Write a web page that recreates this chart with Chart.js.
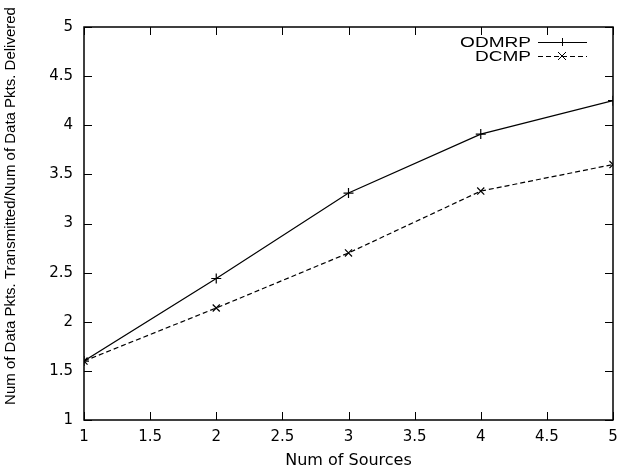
<!DOCTYPE html>
<html>
<head>
<meta charset="UTF-8">
<title>Num of Sources</title>
<script src="https://cdn.jsdelivr.net/npm/chart.js"></script>
<style>
  body { margin: 0; background: #ffffff; }
  #wrap { width: 627px; height: 470px; }
</style>
</head>
<body>
<div id="wrap"><canvas id="chart" width="627" height="470"></canvas></div>
<script>
// datos
const sources = [1, 2, 3, 4, 5];
const odmrp = [1.60, 2.44, 3.31, 3.91, 4.25];
const dcmp = [1.60, 2.14, 2.70, 3.33, 3.60];
const seriesNames = ['ODMRP', 'DCMP'];
const yTitle = 'Num of Data Pkts. Transmitted/Num of Data Pkts. Delivered';
const xTitle = 'Num of Sources';

const FONT = '"Liberation Sans", Arial, Helvetica, sans-serif';
const WIDE = '"DejaVu Sans", sans-serif';

const toPoints = (xs, ys) => xs.map((x, i) => ({ x: x, y: ys[i] }));

// marco, marcas hacia dentro, titulo del eje y y leyenda (estilo gnuplot)
const frame = {
  id: 'frame',
  afterDatasetsDraw(chart) {
    const { ctx, chartArea: a, scales } = chart;
    const len = 8;
    ctx.save();
    ctx.strokeStyle = '#000';
    ctx.lineWidth = 1.5;
    ctx.strokeRect(a.left, a.top, a.right - a.left, a.bottom - a.top);
    ctx.lineWidth = 1;
    ctx.beginPath();
    scales.x.ticks.forEach(t => {
      const px = Math.round(scales.x.getPixelForValue(t.value)) + 0.5;
      ctx.moveTo(px, a.bottom); ctx.lineTo(px, a.bottom - len);
      ctx.moveTo(px, a.top); ctx.lineTo(px, a.top + len);
    });
    scales.y.ticks.forEach(t => {
      const py = Math.round(scales.y.getPixelForValue(t.value)) + 0.5;
      ctx.moveTo(a.left, py); ctx.lineTo(a.left + len, py);
      ctx.moveTo(a.right, py); ctx.lineTo(a.right - len, py);
    });
    ctx.stroke();

    // titulo eje y
    ctx.fillStyle = '#000';
    ctx.save();
    ctx.translate(11, 206);
    ctx.rotate(-Math.PI / 2);
    ctx.font = '15px ' + FONT;
    ctx.textAlign = 'center';
    ctx.textBaseline = 'middle';
    ctx.fillText(yTitle, 0, 0);
    ctx.restore();

    // leyenda
    const ds = chart.data.datasets;
    ds.forEach((d, i) => {
      const y = 42 + i * 14;
      ctx.save();
      ctx.translate(531, y);
      ctx.scale(1.27, 1);
      ctx.font = '15px ' + FONT;
      ctx.textAlign = 'right';
      ctx.textBaseline = 'middle';
      ctx.fillText(d.label, 0, 1);
      ctx.restore();
      ctx.setLineDash(d.borderDash || []);
      ctx.beginPath();
      ctx.moveTo(538, y + 0.5); ctx.lineTo(587, y + 0.5);
      ctx.stroke();
      ctx.setLineDash([]);
      ctx.beginPath();
      const cx = 562, r = 4;
      if (d.pointStyle === 'cross') {
        ctx.moveTo(cx - r, y + 0.5); ctx.lineTo(cx + r, y + 0.5);
        ctx.moveTo(cx + 0.5, y - r); ctx.lineTo(cx + 0.5, y + r);
      } else {
        ctx.moveTo(cx - r, y - r); ctx.lineTo(cx + r, y + r);
        ctx.moveTo(cx - r, y + r); ctx.lineTo(cx + r, y - r);
      }
      ctx.stroke();
    });
    ctx.restore();
  }
};

const fmt = v => String(Number(v));

const chart = new Chart(document.getElementById('chart'), {
  type: 'line',
  data: {
    datasets: [
      {
        label: seriesNames[0],
        data: toPoints(sources, odmrp),
        borderColor: '#000',
        borderWidth: 1.2,
        pointStyle: 'cross',
        pointRadius: 5,
        pointBorderColor: '#000',
        pointBorderWidth: 1.2,
        fill: false,
        tension: 0
      },
      {
        label: seriesNames[1],
        data: toPoints(sources, dcmp),
        borderColor: '#000',
        borderWidth: 1.2,
        borderDash: [5, 3],
        pointStyle: 'crossRot',
        pointRadius: 5,
        pointBorderColor: '#000',
        pointBorderWidth: 1.2,
        fill: false,
        tension: 0
      }
    ]
  },
  options: {
    responsive: false,
    animation: false,
    layout: { padding: { left: 0, right: 14, top: 27, bottom: 0 } },
    plugins: { legend: { display: false }, tooltip: { enabled: false } },
    scales: {
      x: {
        type: 'linear',
        min: 1, max: 5,
        grid: { display: false, drawTicks: false },
        border: { display: false },
        ticks: { stepSize: 0.5, padding: 8, color: '#000', callback: fmt, font: { family: WIDE, size: 15 } },
        title: { display: true, text: xTitle, color: '#000', padding: { top: 2, bottom: 0 }, font: { family: WIDE, size: 16 } },
        afterFit(s) { s.height = 50; }
      },
      y: {
        min: 1, max: 5,
        grid: { display: false, drawTicks: false },
        border: { display: false },
        ticks: { stepSize: 0.5, padding: 11, color: '#000', callback: fmt, font: { family: WIDE, size: 15 } },
        afterFit(s) { s.width = 84; }
      }
    }
  },
  plugins: [frame]
});
</script>
</body>
</html>
